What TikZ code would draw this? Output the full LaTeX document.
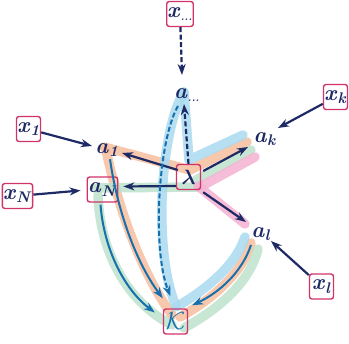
\documentclass[tikz,border=0pt]{standalone}
\usepackage{amsmath,amssymb}
\usepackage{tikz}
\usetikzlibrary{calc,arrows.meta}
\definecolor{navy}{HTML}{1E2A66}
\definecolor{arblue}{HTML}{1670AE}
\definecolor{boxred}{HTML}{D0346A}
\definecolor{bblue}{HTML}{A9D9EF}
\definecolor{borange}{HTML}{F7BE9E}
\definecolor{bgreen}{HTML}{BDE2CB}
\definecolor{bpink}{HTML}{F4B2D2}
\newcommand{\bi}[1]{\textbf{\textit{#1}}}

\begin{document}
\begin{tikzpicture}[x=1pt,y=-1pt,
  lbl/.style={inner sep=0.5pt,text=navy,font=\fontsize{22}{24}\selectfont},
  box/.style={lbl,draw=boxred,line width=1.4pt,rounded corners=2.5pt,minimum width=24pt,minimum height=25pt},
  feed/.style={navy,line width=2.2pt,-{Stealth[length=11pt,width=8pt]}},
  flow/.style={arblue,line width=2pt,-{Stealth[length=11pt,width=8pt]}},
  band/.style={line width=9.5pt,line cap=round,line join=round,opacity=0.85}]
  \useasboundingbox (0,0) rectangle (349,344);

  \draw[band,borange] (104,147) -- (190,170) -- (247,142);
  \draw[band,borange] (106,150) .. controls (120,215) and (143,275) .. (172,315);
  \draw[band,borange] (251,243) .. controls (243,272) and (213,299) .. (180,317);
  \draw[band,bgreen] (97,188) -- (198,187);
  \draw[band,bgreen] (196,180) -- (251,150);
  \draw[band,bgreen] (98,195) .. controls (100,252) and (127,302) .. (172,325);
  \draw[band,bgreen] (258,249) .. controls (250,282) and (219,309) .. (184,328);
  \draw[band,bpink] (200,187) -- (255,157);
  \draw[band,bpink] (198,186) -- (245,224);
  \draw[band,bblue] (184,92) -- (189,160) -- (243,135);
  \draw[band,bblue] (184,92) .. controls (161,128) and (152,250) .. (176,306);
  \draw[band,bblue] (245,237) .. controls (236,265) and (206,290) .. (176,307);

  \node[box] (XD) at (180,14) {$\bi{x}_{\scriptscriptstyle\bi{...}}$};
  \node[box] (XK) at (335.5,97) {$\bi{x}_{\bi{k}}$};
  \node[box] (X1) at (28.5,129) {$\bi{x}_{\bi{1}}$};
  \node[box] (XN) at (17.5,196) {$\bi{x}_{\bi{N}}$};
  \node[box] (XL) at (321.5,286.5) {$\bi{x}_{\bi{l}}$};
  \node[lbl] (AD) at (187,95) {$\bi{a}_{\scriptscriptstyle\bi{...}}$};
  \node[lbl] (AK) at (265,139) {$\bi{a}_{\bi{k}}$};
  \node[lbl] (A1) at (107,150) {$\bi{a}_{\bi{1}}$};
  \node[box] (AN) at (102.5,189.5) {$\bi{a}_{\bi{N}}$};
  \node[lbl] (AL) at (261,234) {$\bi{a}_{\bi{l}}$};
  \node[box] (L) at (188.5,177) {$\boldsymbol{\lambda}$};
  \node[box,text=arblue,font=\fontsize{27}{29}\selectfont] (K) at (175.5,321.5) {$\mathcal{K}$};

  \draw[feed,dash pattern=on 5pt off 2.5pt] (XD) -- ($(AD)+(-5,-20)$);
  \draw[feed] (XK) -- ($(AK)+(13,-11)$);
  \draw[feed] (X1) -- ($(A1)+(-15,-4)$);
  \draw[feed] (XN) -- ($(AN.west)+(-6,1)$);
  \draw[feed] (XL) -- ($(AL)+(10,7)$);

  \draw[feed] ($(L.west)+(2,-7)$) -- ($(A1)+(15,3)$);
  \draw[feed] ($(L.west)+(0,9)$) -- ($(AN.east)+(5,-3)$);
  \draw[feed] ($(L.east)+(2,-6)$) -- ($(AK)+(-17,8)$);
  \draw[feed] ($(L.south east)+(2,2)$) -- ($(AL)+(-15,-12)$);
  \draw[feed,dash pattern=on 5pt off 2.5pt] (L.north) -- ($(AD)+(-3,9)$);

  \draw[flow] ($(A1.south)+(3,2)$) .. controls (118,215) and (138,265) .. ($(K.north west)+(0,-10)$);
  \draw[flow] ($(AN.south)+(-2,2)$) .. controls (104,250) and (125,290) .. ($(K.west)+(-8,-9)$);
  \draw[flow,dash pattern=on 5pt off 2.5pt] ($(AD)+(-9,11)$) .. controls (158,140) and (152,250) .. ($(K.north)+(-5,-12)$);
  \draw[flow] ($(AL)+(-10,11)$) .. controls (242,272) and (220,292) .. ($(K.north east)+(4,-3)$);
\end{tikzpicture}
\end{document}
